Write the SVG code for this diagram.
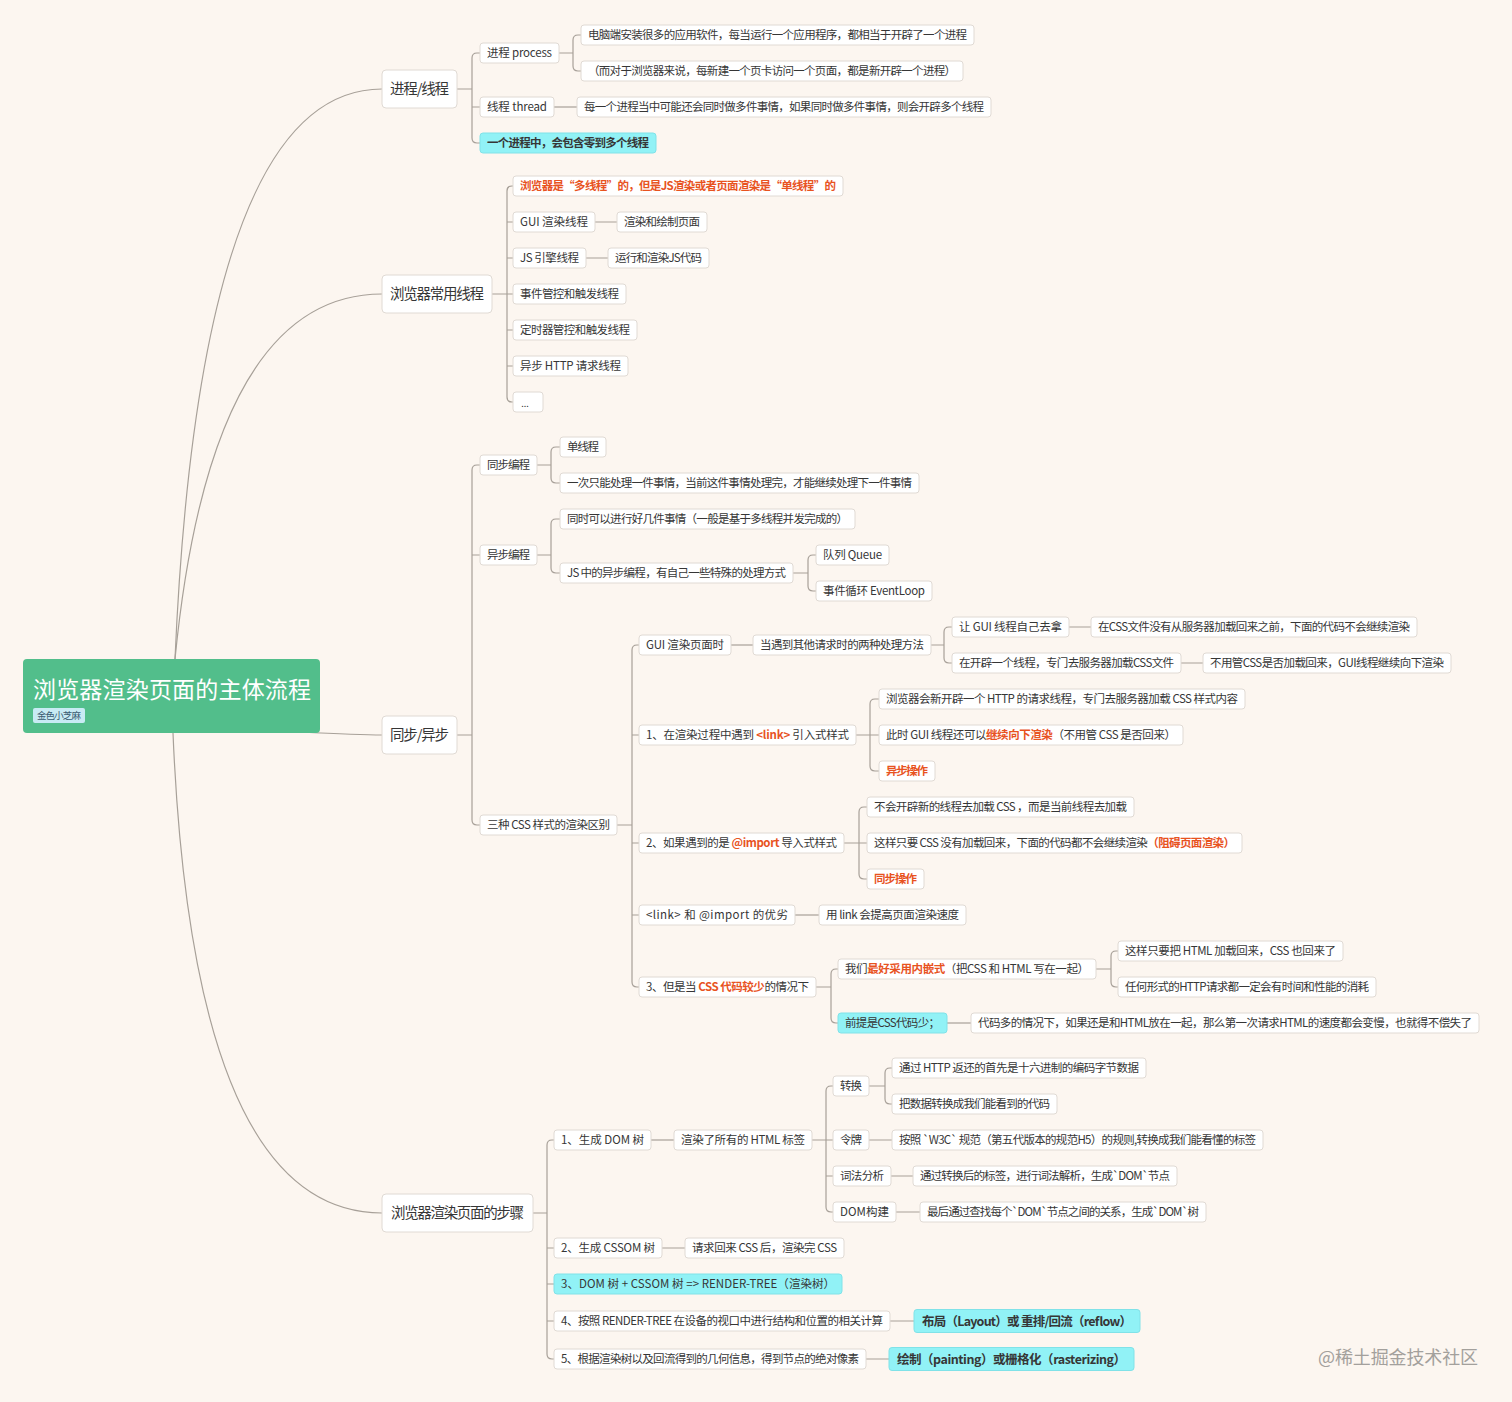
<svg xmlns="http://www.w3.org/2000/svg" width="1512" height="1402" viewBox="0 0 1512 1402">
<style>
text{font-family:"Noto Sans CJK SC","Liberation Sans",sans-serif;fill:#363636;font-size:11.5px;text-anchor:middle}
.n{fill:#ffffff;stroke:#e0dad4;stroke-width:1}
.cy{fill:#91f2f6;stroke:#80e2e8;stroke-width:1}
.l1{font-size:14.5px}
.o{fill:#e8531f;font-weight:bold}
.b{font-weight:bold}
.big{font-size:12.5px;font-weight:bold}
.con path{fill:none;stroke:#a7a098;stroke-width:1.2}
</style>
<rect x="0" y="0" width="1512" height="1402" fill="#fcf6f0"/>
<g class="con" id="connectors">
<path d="M175,659 Q200,89 382,89"/>
<path d="M175,659 Q211,294 382,294"/>
<path d="M300,732 C340,734 360,735 382,735"/>
<path d="M173,733 Q193,1213 382,1213"/>
<path d="M457,89 H472 M480,53 H477 Q472,53 472,58 V138 Q472,143 477,143 H480 M472,107 H480"/>
<path d="M559,53 H573 M581,35 H578 Q573,35 573,40 V66 Q573,71 578,71 H581"/>
<path d="M554,107 H577"/>
<path d="M492,294 H507 M513,186 H512 Q507,186 507,191 V397 Q507,402 512,402 H513 M507,222 H513 M507,258 H513 M507,294 H513 M507,330 H513 M507,366 H513"/>
<path d="M595,222 H617 M586,258 H608"/>
<path d="M457,735 H472 M480,465 H477 Q472,465 472,470 V820 Q472,825 477,825 H480 M472,555 H480"/>
<path d="M537,465 H551 M560,447 H556 Q551,447 551,452 V478 Q551,483 556,483 H560"/>
<path d="M537,555 H551 M560,519 H556 Q551,519 551,524 V568 Q551,573 556,573 H560"/>
<path d="M793,573 H808 M816,555 H813 Q808,555 808,560 V586 Q808,591 813,591 H816"/>
<path d="M617,825 H632 M639,645 H637 Q632,645 632,650 V982 Q632,987 637,987 H639 M632,735 H639 M632,843 H639 M632,915 H639"/>
<path d="M731,645 H753"/>
<path d="M931,645 H944 M952,627 H949 Q944,627 944,632 V658 Q944,663 949,663 H952"/>
<path d="M1069,627 H1091 M1181,663 H1203"/>
<path d="M856,735 H870 M879,699 H875 Q870,699 870,704 V766 Q870,771 875,771 H879 M870,735 H879"/>
<path d="M844,843 H859 M867,807 H864 Q859,807 859,812 V874 Q859,879 864,879 H867 M859,843 H867"/>
<path d="M795,915 H819"/>
<path d="M816,987 H831 M838,969 H836 Q831,969 831,974 V1018 Q831,1023 836,1023 H838"/>
<path d="M1096,969 H1111 M1118,951 H1116 Q1111,951 1111,956 V982 Q1111,987 1116,987 H1118"/>
<path d="M947,1023 H971"/>
<path d="M533,1213 H547 M554,1140 H552 Q547,1140 547,1145 V1354 Q547,1359 552,1359 H554 M547,1248 H554 M547,1284 H554 M547,1321 H554"/>
<path d="M651,1140 H674"/>
<path d="M812,1140 H826 M833,1086 H831 Q826,1086 826,1091 V1207 Q826,1212 831,1212 H833 M826,1140 H833 M826,1176 H833"/>
<path d="M869,1086 H885 M892,1068 H890 Q885,1068 885,1073 V1099 Q885,1104 890,1104 H892"/>
<path d="M869,1140 H892 M891,1176 H913 M896,1212 H920"/>
<path d="M662,1248 H685 M890,1321 H914 M866,1359 H889"/>
</g>
<g id="root">
<rect x="23" y="659" width="297" height="74" rx="4" fill="#52be8b"/>
<text x="33" y="698" style="font-size:23px;fill:#ffffff;text-anchor:start" textLength="278">浏览器渲染页面的主体流程</text>
<rect x="33" y="708" width="52" height="15" rx="2" fill="#c8ebf4"/>
<text x="59" y="719" style="font-size:9.5px;fill:#3a5a70" textLength="44">金色小芝麻</text>
</g>
<g id="n1"><rect class="n" x="382" y="70" width="75" height="38" rx="4"/><text class="l1" x="419.5" y="94" textLength="59">进程/线程</text></g>
<g id="n2"><rect class="n" x="382" y="275" width="110" height="38" rx="4"/><text class="l1" x="437" y="299" textLength="94">浏览器常用线程</text></g>
<g id="n3"><rect class="n" x="382" y="716" width="75" height="38" rx="4"/><text class="l1" x="419.5" y="740" textLength="59">同步/异步</text></g>
<g id="n4"><rect class="n" x="382" y="1194" width="151" height="38" rx="4"/><text class="l1" x="457.5" y="1218" textLength="133">浏览器渲染页面的步骤</text></g>

<g id="a1"><rect class="n" x="480" y="43" width="79" height="20" rx="3"/><text x="519.5" y="57" textLength="65">进程 process</text></g>
<g id="a1a"><rect class="n" x="581" y="25" width="393" height="20" rx="3"/><text x="777.5" y="39" textLength="379">电脑端安装很多的应用软件，每当运行一个应用程序，都相当于开辟了一个进程</text></g>
<g id="a1b"><rect class="n" x="581" y="61" width="382" height="20" rx="3"/><text x="772" y="75" textLength="368">（而对于浏览器来说，每新建一个页卡访问一个页面，都是新开辟一个进程）</text></g>
<g id="a2"><rect class="n" x="480" y="97" width="74" height="20" rx="3"/><text x="517" y="111" textLength="60">线程 thread</text></g>
<g id="a2a"><rect class="n" x="577" y="97" width="414" height="20" rx="3"/><text x="784" y="111" textLength="400">每一个进程当中可能还会同时做多件事情，如果同时做多件事情，则会开辟多个线程</text></g>
<g id="a3"><rect class="cy" x="480" y="133" width="176" height="20" rx="3"/><text class="b" x="568" y="147" textLength="162">一个进程中，会包含零到多个线程</text></g>

<g id="b1"><rect class="n" x="513" y="176" width="330" height="20" rx="3"/><text class="o" x="678" y="190" textLength="316">浏览器是“多线程”的，但是JS渲染或者页面渲染是“单线程”的</text></g>
<g id="b2"><rect class="n" x="513" y="212" width="82" height="20" rx="3"/><text x="554" y="226" textLength="68">GUI 渲染线程</text></g>
<g id="b2a"><rect class="n" x="617" y="212" width="90" height="20" rx="3"/><text x="662" y="226" textLength="76">渲染和绘制页面</text></g>
<g id="b3"><rect class="n" x="513" y="248" width="73" height="20" rx="3"/><text x="549.5" y="262" textLength="59">JS 引擎线程</text></g>
<g id="b3a"><rect class="n" x="608" y="248" width="101" height="20" rx="3"/><text x="658.5" y="262" textLength="87">运行和渲染JS代码</text></g>
<g id="b4"><rect class="n" x="513" y="284" width="113" height="20" rx="3"/><text x="569.5" y="298" textLength="99">事件管控和触发线程</text></g>
<g id="b5"><rect class="n" x="513" y="320" width="124" height="20" rx="3"/><text x="575" y="334" textLength="110">定时器管控和触发线程</text></g>
<g id="b6"><rect class="n" x="513" y="356" width="115" height="20" rx="3"/><text x="570.5" y="370" textLength="101">异步 HTTP 请求线程</text></g>
<g id="b7"><rect class="n" x="513" y="392" width="30" height="20" rx="3"/><text x="525" y="407" style="font-size:9px">...</text></g>

<g id="c1"><rect class="n" x="480" y="455" width="57" height="20" rx="3"/><text x="508.5" y="469" textLength="43">同步编程</text></g>
<g id="c1a"><rect class="n" x="560" y="437" width="46" height="20" rx="3"/><text x="583" y="451" textLength="32">单线程</text></g>
<g id="c1b"><rect class="n" x="560" y="473" width="359" height="20" rx="3"/><text x="739.5" y="487" textLength="345">一次只能处理一件事情，当前这件事情处理完，才能继续处理下一件事情</text></g>
<g id="c2"><rect class="n" x="480" y="545" width="57" height="20" rx="3"/><text x="508.5" y="559" textLength="43">异步编程</text></g>
<g id="c2a"><rect class="n" x="560" y="509" width="295" height="20" rx="3"/><text x="707.5" y="523" textLength="281">同时可以进行好几件事情（一般是基于多线程并发完成的）</text></g>
<g id="c2b"><rect class="n" x="560" y="563" width="233" height="20" rx="3"/><text x="676.5" y="577" textLength="219">JS 中的异步编程，有自己一些特殊的处理方式</text></g>
<g id="c2b1"><rect class="n" x="816" y="545" width="73" height="20" rx="3"/><text x="852.5" y="559" textLength="59">队列 Queue</text></g>
<g id="c2b2"><rect class="n" x="816" y="581" width="116" height="20" rx="3"/><text x="874" y="595" textLength="102">事件循环 EventLoop</text></g>
<g id="c3"><rect class="n" x="480" y="815" width="137" height="20" rx="3"/><text x="548.5" y="829" textLength="123">三种 CSS 样式的渲染区别</text></g>

<g id="d1"><rect class="n" x="639" y="635" width="92" height="20" rx="3"/><text x="685" y="649" textLength="78">GUI 渲染页面时</text></g>
<g id="d1a"><rect class="n" x="753" y="635" width="178" height="20" rx="3"/><text x="842" y="649" textLength="164">当遇到其他请求时的两种处理方法</text></g>
<g id="d1a1"><rect class="n" x="952" y="617" width="117" height="20" rx="3"/><text x="1010.5" y="631" textLength="103">让 GUI 线程自己去拿</text></g>
<g id="d1a1a"><rect class="n" x="1091" y="617" width="326" height="20" rx="3"/><text x="1254" y="631" textLength="312">在CSS文件没有从服务器加载回来之前，下面的代码不会继续渲染</text></g>
<g id="d1a2"><rect class="n" x="952" y="653" width="229" height="20" rx="3"/><text x="1066.5" y="667" textLength="215">在开辟一个线程，专门去服务器加载CSS文件</text></g>
<g id="d1a2a"><rect class="n" x="1203" y="653" width="248" height="20" rx="3"/><text x="1327" y="667" textLength="234">不用管CSS是否加载回来，GUI线程继续向下渲染</text></g>
<g id="d2"><rect class="n" x="639" y="725" width="217" height="20" rx="3"/><text x="747.5" y="739" textLength="203">1、在渲染过程中遇到 <tspan class="o">&lt;link&gt;</tspan>  引入式样式</text></g>
<g id="d2a"><rect class="n" x="879" y="689" width="366" height="20" rx="3"/><text x="1062" y="703" textLength="352">浏览器会新开辟一个 HTTP 的请求线程，专门去服务器加载 CSS 样式内容</text></g>
<g id="d2b"><rect class="n" x="879" y="725" width="304" height="20" rx="3"/><text x="1031" y="739" textLength="290">此时 GUI 线程还可以<tspan class="o">继续向下渲染</tspan>（不用管 CSS 是否回来）</text></g>
<g id="d2c"><rect class="n" x="879" y="761" width="56" height="20" rx="3"/><text class="o" x="907" y="775" textLength="42">异步操作</text></g>
<g id="d3"><rect class="n" x="639" y="833" width="205" height="20" rx="3"/><text x="741.5" y="847" textLength="191">2、如果遇到的是 <tspan class="o">@import</tspan> 导入式样式</text></g>
<g id="d3a"><rect class="n" x="867" y="797" width="267" height="20" rx="3"/><text x="1000.5" y="811" textLength="253">不会开辟新的线程去加载 CSS ，而是当前线程去加载</text></g>
<g id="d3b"><rect class="n" x="867" y="833" width="375" height="20" rx="3"/><text x="1054.5" y="847" textLength="361">这样只要 CSS 没有加载回来，下面的代码都不会继续渲染<tspan class="o">（阻碍页面渲染）</tspan></text></g>
<g id="d3c"><rect class="n" x="867" y="869" width="57" height="20" rx="3"/><text class="o" x="895.5" y="883" textLength="43">同步操作</text></g>
<g id="d4"><rect class="n" x="639" y="905" width="156" height="20" rx="3"/><text x="717" y="919" textLength="142">&lt;link&gt; 和 @import 的优劣</text></g>
<g id="d4a"><rect class="n" x="819" y="905" width="147" height="20" rx="3"/><text x="892.5" y="919" textLength="133">用 link 会提高页面渲染速度</text></g>
<g id="d5"><rect class="n" x="639" y="977" width="177" height="20" rx="3"/><text x="727.5" y="991" textLength="163">3、但是当 <tspan class="o">CSS 代码较少</tspan>的情况下</text></g>
<g id="d5a"><rect class="n" x="838" y="959" width="258" height="20" rx="3"/><text x="967" y="973" textLength="244">我们<tspan class="o">最好采用内嵌式</tspan>（把CSS 和 HTML 写在一起）</text></g>
<g id="d5a1"><rect class="n" x="1118" y="941" width="225" height="20" rx="3"/><text x="1230.5" y="955" textLength="211">这样只要把 HTML 加载回来，CSS 也回来了</text></g>
<g id="d5a2"><rect class="n" x="1118" y="977" width="258" height="20" rx="3"/><text x="1247" y="991" textLength="244">任何形式的HTTP请求都一定会有时间和性能的消耗</text></g>
<g id="d5b"><rect class="cy" x="838" y="1013" width="109" height="20" rx="3"/><text x="892.5" y="1027" textLength="95">前提是CSS代码少；</text></g>
<g id="d5b1"><rect class="n" x="971" y="1013" width="508" height="20" rx="3"/><text x="1225" y="1027" textLength="494">代码多的情况下，如果还是和HTML放在一起，那么第一次请求HTML的速度都会变慢，也就得不偿失了</text></g>

<g id="e1"><rect class="n" x="554" y="1130" width="97" height="20" rx="3"/><text x="602.5" y="1144" textLength="83">1、生成 DOM 树</text></g>
<g id="e1a"><rect class="n" x="674" y="1130" width="138" height="20" rx="3"/><text x="743" y="1144" textLength="124">渲染了所有的 HTML 标签</text></g>
<g id="f1"><rect class="n" x="833" y="1076" width="36" height="20" rx="3"/><text x="851" y="1090" textLength="22">转换</text></g>
<g id="f1a"><rect class="n" x="892" y="1058" width="254" height="20" rx="3"/><text x="1019" y="1072" textLength="240">通过 HTTP 返还的首先是十六进制的编码字节数据</text></g>
<g id="f1b"><rect class="n" x="892" y="1094" width="165" height="20" rx="3"/><text x="974.5" y="1108" textLength="151">把数据转换成我们能看到的代码</text></g>
<g id="f2"><rect class="n" x="833" y="1130" width="36" height="20" rx="3"/><text x="851" y="1144" textLength="22">令牌</text></g>
<g id="f2a"><rect class="n" x="892" y="1130" width="371" height="20" rx="3"/><text x="1077.5" y="1144" textLength="357">按照 `W3C` 规范（第五代版本的规范H5）的规则,转换成我们能看懂的标签</text></g>
<g id="f3"><rect class="n" x="833" y="1166" width="58" height="20" rx="3"/><text x="862" y="1180" textLength="44">词法分析</text></g>
<g id="f3a"><rect class="n" x="913" y="1166" width="264" height="20" rx="3"/><text x="1045" y="1180" textLength="250">通过转换后的标签，进行词法解析，生成`DOM`节点</text></g>
<g id="f4"><rect class="n" x="833" y="1202" width="63" height="20" rx="3"/><text x="864.5" y="1216" textLength="49">DOM构建</text></g>
<g id="f4a"><rect class="n" x="920" y="1202" width="286" height="20" rx="3"/><text x="1063" y="1216" textLength="272">最后通过查找每个`DOM`节点之间的关系，生成`DOM`树</text></g>
<g id="e2"><rect class="n" x="554" y="1238" width="108" height="20" rx="3"/><text x="608" y="1252" textLength="94">2、生成 CSSOM 树</text></g>
<g id="e2a"><rect class="n" x="685" y="1238" width="159" height="20" rx="3"/><text x="764.5" y="1252" textLength="145">请求回来 CSS 后，渲染完 CSS</text></g>
<g id="e3"><rect class="cy" x="554" y="1274" width="288" height="20" rx="3"/><text x="698" y="1288" textLength="274">3、DOM 树 + CSSOM 树 =&gt; RENDER-TREE（渲染树）</text></g>
<g id="e4"><rect class="n" x="554" y="1311" width="336" height="20" rx="3"/><text x="722" y="1325" textLength="322">4、按照 RENDER-TREE 在设备的视口中进行结构和位置的相关计算</text></g>
<g id="e4a"><rect class="cy" x="914" y="1309.5" width="226" height="23" rx="3"/><text class="big" x="1027" y="1325.5" textLength="210">布局（Layout）或 重排/回流（reflow）</text></g>
<g id="e5"><rect class="n" x="554" y="1349" width="312" height="20" rx="3"/><text x="710" y="1363" textLength="298">5、根据渲染树以及回流得到的几何信息，得到节点的绝对像素</text></g>
<g id="e5a"><rect class="cy" x="889" y="1347.5" width="245" height="23" rx="3"/><text class="big" x="1011.5" y="1363.5" textLength="229">绘制（painting）或栅格化（rasterizing）</text></g>

<text x="1398" y="1364" style="font-size:18px;fill:#a3a09c" textLength="160">@稀土掘金技术社区</text>
</svg>
